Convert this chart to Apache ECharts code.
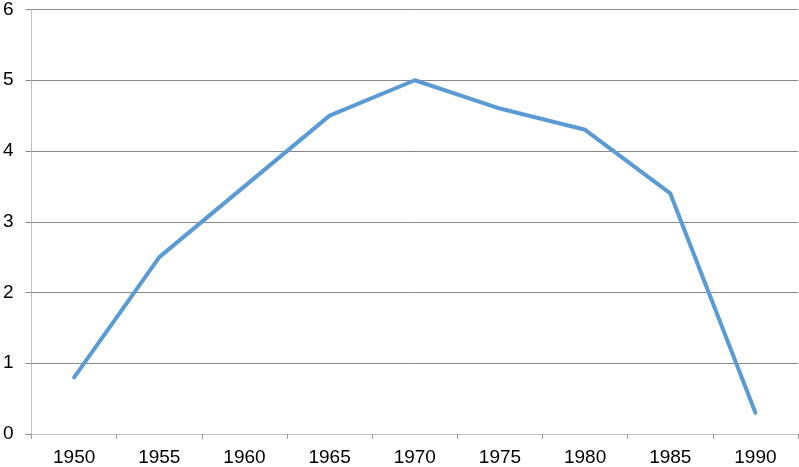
<!DOCTYPE html>
<html><head><meta charset="utf-8">
<script src="https://cdn.jsdelivr.net/npm/echarts@6/dist/echarts.min.js"></script>
<style>html,body{margin:0;padding:0;background:#fff}#c{width:799px;height:467px}</style>
</head><body><div id="c"></div>
<script>
const categories = ['1950','1955','1960','1965','1970','1975','1980','1985','1990'];
const values = [0.8, 2.5, 3.5, 4.5, 5.0, 4.6, 4.3, 3.4, 0.3];
const yTicks = [0, 1, 2, 3, 4, 5, 6];
const chart = echarts.init(document.getElementById('c'), null, {renderer: 'canvas'});
chart.setOption({
  animation: false,
  grid: {left: 30, right: 1, top: 8, bottom: 32, containLabel: false},
  xAxis: {
    type: 'category', data: categories, boundaryGap: true,
    axisLine: {lineStyle: {color: '#bfbfbf', width: 1}},
    axisTick: {show: true, length: 5, alignWithLabel: false, lineStyle: {color: '#999'}},
    axisLabel: {color: '#000', fontSize: 19, fontFamily: 'Liberation Sans, Arial', margin: 14}
  },
  yAxis: {
    type: 'value', min: yTicks[0], max: yTicks[yTicks.length-1], interval: 1,
    axisLine: {show: true, lineStyle: {color: '#bfbfbf', width: 1}},
    axisTick: {show: true, length: 6, lineStyle: {color: '#888'}},
    splitLine: {show: true, lineStyle: {color: '#888', width: 1}},
    axisLabel: {color: '#000', fontSize: 19, fontFamily: 'Liberation Sans, Arial', margin: 18}
  },
  series: [{
    type: 'line', data: values, symbol: 'none',
    lineStyle: {color: '#5b9bd5', width: 4, cap: 'round', join: 'round'}
  }]
});
</script></body></html>
